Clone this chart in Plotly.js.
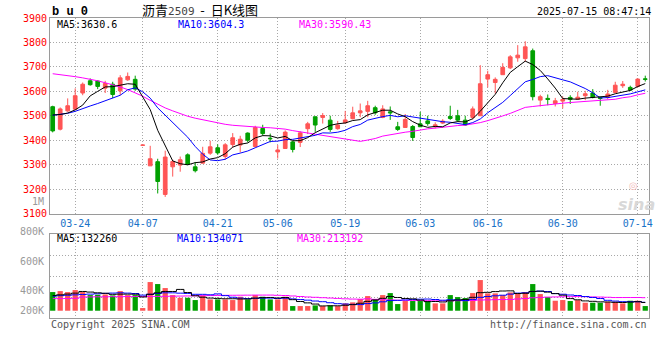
<!DOCTYPE html>
<html><head><meta charset="utf-8">
<script src="https://cdn.plot.ly/plotly-3.0.1.min.js"></script>
<style>html,body{margin:0;padding:0;background:#fff;}#chart{width:660px;height:360px;}</style>
</head><body><div id="chart"></div>
<script>
const dates = ['03-19','03-20','03-21','03-24','03-25','03-26','03-27','03-28','03-31',
'04-01','04-02','04-03','04-07','04-08','04-09','04-10','04-11','04-14','04-15','04-16','04-17','04-18','04-21','04-22','04-23','04-24','04-25','04-28','04-29','04-30',
'05-06','05-07','05-08','05-09','05-12','05-13','05-14','05-15','05-16','05-19','05-20','05-21','05-22','05-23','05-26','05-27','05-28','05-29','05-30',
'06-03','06-04','06-05','06-06','06-09','06-10','06-11','06-12','06-13','06-16','06-17','06-18','06-19','06-20','06-23','06-24','06-25','06-26','06-27','06-30',
'07-01','07-02','07-03','07-04','07-07','07-08','07-09','07-10','07-11','07-14','07-15'];
const openP = [3537,3445,3520,3527,3593,3643,3642,3613,3629,3602,3647,3649,3379,3295,3312,3178,3291,3298,3340,3291,3306,3347,3369,3333,3382,3380,3429,3374,3448,3408,3352,3366,3393,3391,3447,3496,3493,3482,3447,3471,3488,3512,3518,3533,3493,3516,3455,3452,3456,3467,3479,3455,3470,3497,3500,3482,3493,3500,3650,3636,3668,3696,3737,3734,3766,3564,3571,3550,3560,3575,3568,3582,3593,3575,3575,3595,3623,3616,3620,3651];
const highP = [3541,3534,3571,3612,3636,3653,3645,3643,3639,3666,3677,3664,3380,3377,3324,3357,3320,3333,3346,3311,3373,3398,3383,3388,3429,3418,3432,3459,3463,3427,3380,3440,3397,3436,3475,3496,3511,3500,3479,3520,3537,3550,3561,3541,3543,3538,3475,3507,3462,3516,3500,3473,3486,3541,3524,3500,3538,3707,3684,3657,3715,3748,3789,3805,3775,3586,3587,3573,3579,3584,3598,3602,3609,3576,3606,3639,3642,3623,3653,3664];
const lowP = [3432,3440,3516,3524,3584,3623,3609,3593,3572,3584,3643,3602,3379,3295,3182,3168,3251,3271,3298,3268,3305,3340,3340,3320,3370,3350,3391,3370,3418,3391,3325,3366,3350,3372,3425,3434,3468,3434,3443,3470,3485,3494,3494,3504,3490,3483,3438,3452,3397,3455,3459,3448,3466,3483,3475,3459,3485,3500,3616,3591,3668,3691,3721,3721,3563,3538,3543,3538,3530,3548,3565,3564,3571,3541,3568,3593,3614,3602,3616,3640];
const closeP = [3438,3528,3541,3582,3629,3627,3620,3632,3587,3655,3661,3609,3380,3324,3231,3331,3313,3320,3301,3275,3346,3373,3348,3381,3410,3404,3400,3452,3427,3406,3360,3433,3362,3430,3467,3462,3501,3444,3462,3483,3512,3520,3541,3512,3528,3512,3444,3485,3411,3455,3468,3463,3478,3489,3482,3462,3528,3631,3668,3649,3698,3741,3748,3782,3578,3578,3567,3561,3567,3567,3576,3590,3575,3571,3589,3625,3629,3605,3650,3649];
const ma5 = [3503,3505,3511,3524,3543.6,3581.4,3599.8,3618,3619,3624.2,3631,3628.8,3577.8,3525.2,3440.4,3374.4,3315.2,3303.8,3299.2,3308,3311,3323,3328.6,3344.6,3371.6,3383.2,3388.6,3409.4,3418.6,3417.8,3409,3415.6,3397.6,3398.2,3410.4,3430.8,3444.4,3460.8,3467.2,3470.4,3480.4,3484.2,3503.6,3513.6,3522.6,3522.6,3507.4,3496.2,3476,3461.4,3452.6,3456.4,3455,3470.6,3476,3474.8,3487.8,3518.4,3554.2,3587.6,3634.8,3677.4,3700.8,3723.6,3709.4,3685.4,3650.6,3613.2,3570.2,3568,3567.6,3572.2,3575,3575.8,3580.2,3590,3597.8,3603.8,3619.6,3631.6];
const ma10 = [3502,3505,3510,3518,3530,3540,3550,3561,3571,3583.9,3606.2,3614.3,3597.9,3572.1,3532.3,3502.7,3472,3440.8,3412.2,3374.2,3342.7,3319.1,3316.2,3321.9,3339.8,3347.1,3355.8,3369,3381.6,3394.7,3396.1,3402.1,3403.5,3408.4,3414.1,3419.9,3430,3429.2,3432.7,3440.4,3455.6,3464.3,3482.2,3490.4,3496.5,3501.5,3495.8,3499.9,3494.8,3492,3487.6,3481.9,3475.6,3473.3,3468.7,3463.7,3472.1,3486.7,3512.4,3531.8,3554.8,3582.6,3609.6,3638.9,3648.5,3660.1,3664,3657,3646.9,3638.7,3626.5,3611.4,3594.1,3573,3574.1,3578.8,3585,3589.4,3597.7,3605.9];
const ma30 = [3672,3669,3665,3660,3655,3650,3643,3635,3627,3618,3607,3594,3580,3563,3546,3532,3520,3508,3498,3490,3483,3476,3470,3465,3461,3458,3455,3453,3452,3450.9,3448.3,3445.2,3439.2,3434.1,3428.7,3423.2,3419.3,3413,3408.8,3403.1,3398.1,3395.2,3400.6,3406.9,3416.8,3422.8,3427.2,3432.7,3436.4,3442.4,3446.4,3449.4,3453.8,3457.4,3459.8,3461.7,3466,3471.9,3480,3488.1,3499.3,3509.6,3522.5,3534.2,3537.9,3541.8,3544,3547.9,3551.4,3554.2,3556.3,3558.6,3559.8,3561.7,3563.8,3567.5,3573.7,3577.7,3585.7,3592.1];
// volume in thousands of lots
const volume = [308,324,308,341,308,258,264,269,253,324,258,258,44,473,440,374,258,214,214,176,253,187,187,187,176,231,187,258,231,187,187,231,77,77,77,88,77,88,77,121,138,192,242,192,258,291,110,160,160,160,160,121,121,258,225,209,291,506,286,286,258,302,286,308,440,275,225,165,176,160,176,132,132,132,148,148,121,165,165,77];
const volMa5 = [250,262,275,290,317.8,307.8,295.8,288,270.4,273.6,273.6,272.4,227.4,271.4,294.6,317.8,317.8,351.8,300,247.2,223,208.8,203.4,198,198,193.6,193.6,207.8,216.6,218.8,210,218.8,182.6,151.8,129.8,110,79.2,81.4,81.4,90.2,100.2,123.2,154,177,204.4,235,218.6,202.2,195.8,176.2,150,152.2,144.4,164,177,186.8,220.8,297.8,303.4,315.6,325.4,327.6,283.6,288,318.8,322.2,306.8,282.6,256.2,200.2,180.4,161.8,155.2,146.4,144,138.4,136.2,142.8,149.4,135.2];
const volMa10 = [240,248,255,262,268,274,280,286,291,295.7,290.7,284.1,257.7,270.9,284.1,295.7,295.1,289.6,285.7,270.9,270.4,263.3,277.6,249,222.6,208.3,201.2,205.6,207.3,208.4,201.8,206.2,195.2,184.2,174.3,160,149,132,116.6,110,105.1,101.2,117.7,129.2,147.3,167.6,170.9,178.1,186.4,190.3,192.5,185.4,173.3,179.9,176.6,168.4,186.5,221.1,233.7,246.3,256.1,274.2,290.7,295.7,317.2,323.8,317.2,283.1,272.1,259.5,251.3,234.3,218.9,201.3,172.1,159.4,149,149,147.9,139.6];
const volMa30 = [200,200,202,205,225,228,230,230,232,232,234,234,234,236,236,238,240,242,244,246,248,250,252,254,255,256,257,258,258,258.3,254.3,251.2,243.5,234.7,227,221.3,215.1,209.1,203.2,196.4,192.4,190.2,196.8,187.5,181.4,178.6,173.7,171.9,170.1,169.6,166.5,164.3,162.1,164.4,166.1,165.3,168.8,177.1,178.9,182.2,184.6,186.9,193.9,201.6,213.7,219.9,224.9,227.4,230.7,232,233.3,231.3,227.6,225.6,222,217.2,217.6,217.7,217.9,215.1];
const dateTicks = ['03-24','04-07','04-21','05-06','05-19','06-03','06-16','06-30','07-14'];
const priceTicks = [3100,3200,3300,3400,3500,3600,3700,3800,3900];
const volTickLabels = ['1M','800K','600K','400K','200K'];
const priceLegend = ['MA5:3630.6','MA10:3604.3','MA30:3590.43'];
const volLegend = ['MA5:132260','MA10:134071','MA30:213192'];

const RED = '#ff5555', GREEN = '#00a000';
const MONO = 'DejaVu Sans Mono';
const L = 50, T = 18, W = 599, H = 300;
const px = x => (x - L) / W;
const py = y => (T + H - y) / H;

const barColors = closeP.map((c, i) => c >= openP[i] ? RED : GREEN);

const traces = [
  {type:'candlestick', x:dates, open:openP, high:highP, low:lowP, close:closeP, xaxis:'x', yaxis:'y',
   increasing:{line:{color:RED,width:1}, fillcolor:RED},
   decreasing:{line:{color:GREEN,width:1}, fillcolor:GREEN},
   whiskerwidth:0, hoverinfo:'skip', showlegend:false},
  {type:'scatter', mode:'lines', x:dates, y:ma30, line:{color:'#ff00ff', width:1}, xaxis:'x', yaxis:'y', hoverinfo:'skip'},
  {type:'scatter', mode:'lines', x:dates, y:ma10, line:{color:'#0000ff', width:1}, xaxis:'x', yaxis:'y', hoverinfo:'skip'},
  {type:'scatter', mode:'lines', x:dates, y:ma5, line:{color:'#000000', width:1}, xaxis:'x', yaxis:'y', hoverinfo:'skip'},
  {type:'bar', x:dates, y:volume, marker:{color:barColors, line:{width:0}}, xaxis:'x2', yaxis:'y2', hoverinfo:'skip'},
  {type:'scatter', mode:'lines', x:dates, y:volMa30, line:{color:'#ff00ff', width:1, shape:'hvh'}, xaxis:'x2', yaxis:'y2', hoverinfo:'skip'},
  {type:'scatter', mode:'lines', x:dates, y:volMa10, line:{color:'#0000ff', width:1, shape:'hvh'}, xaxis:'x2', yaxis:'y2', hoverinfo:'skip'},
  {type:'scatter', mode:'lines', x:dates, y:volMa5, line:{color:'#000000', width:1, shape:'hvh'}, xaxis:'x2', yaxis:'y2', hoverinfo:'skip'}
];

const gridCol = '#a8a8a8', axCol = '#9a9a9a';
const ann = (text, x, y, color, xanchor, size, extra) => Object.assign({
  text, x:px(x), y:py(y), xref:'paper', yref:'paper', xanchor:xanchor||'left', yanchor:'middle',
  showarrow:false, font:{family:MONO, size:size||10, color:color}}, extra||{});

const volLabelY = [201, 231, 261, 290, 310];
const annotations = [
  ann('b u 0', 50, 12, '#000', 'left', 12, {font:{family:'Liberation Mono', size:12, color:'#000', weight:'bold'}}),
  ann('2025-07-15 08:47:14', 653, 12, '#000', 'right', 10),
  ann(priceLegend[0], 55, 24.5, '#000'),
  ann(priceLegend[1], 176, 24.5, '#0000ff'),
  ann(priceLegend[2], 297, 24.5, '#ff00ff'),
  ann(volLegend[0], 55, 238.5, '#000'),
  ann(volLegend[1], 175, 238.5, '#0000ff'),
  ann(volLegend[2], 295, 238.5, '#ff00ff'),
  ann('Copyright 2025 SINA.COM', 49, 324, '#555'),
  ann('http://finance.sina.com.cn', 649, 324, '#555', 'right'),
  ann('sina', 636, 204, '#d8d8d8', 'center', 16, {font:{family:'DejaVu Sans', size:16, color:'#d8d8d8', style:'italic', weight:'bold'}}),
  ann('◎', 633, 185, '#f2bcbc', 'center', 10, {font:{family:'DejaVu Sans', size:10, color:'#f2bcbc'}})
].concat(volTickLabels.map((t, i) => ann(t, 46, volLabelY[i], '#999', 'right', 10)));

const layout = {
  width:660, height:360, margin:{l:L, r:660-L-W, t:T, b:360-T-H, pad:0},
  paper_bgcolor:'#fff', plot_bgcolor:'#fff', showlegend:false, bargap:0.3,
  title:{text:'沥青<span style="font-family:DejaVu Sans Mono;font-size:11px;color:#444">2509</span>\u00a0\u00a0-\u00a0\u00a0日K线图',
         x:142/660, xanchor:'left', y:1-10.5/360, yanchor:'middle', xref:'container', yref:'container',
         font:{family:'Noto Sans CJK SC', size:13, color:'#000'}},
  xaxis:{type:'category', domain:[0,1], anchor:'y', range:[-0.36, 79.5], tickvals:dateTicks, ticktext:dateTicks,
         showgrid:true, gridcolor:gridCol, griddash:'1px,2px', gridwidth:1, ticks:'', showline:true, linecolor:axCol,
         linewidth:1, mirror:true, tickfont:{family:MONO, size:10, color:'#1872c8'}, rangeslider:{visible:false},
         zeroline:false, fixedrange:true},
  yaxis:{domain:[(T+H-213.5)/H, 1], anchor:'x', range:[3100, 3900], tickvals:priceTicks, ticktext:priceTicks.map(String),
         showgrid:true, gridcolor:gridCol, griddash:'1px,2px', ticks:'', showline:true, linecolor:axCol, mirror:true,
         tickfont:{family:MONO, size:10, color:'#ff0000'}, zeroline:false, fixedrange:true},
  xaxis2:{type:'category', domain:[0,1], anchor:'y2', matches:'x', range:[-0.36, 79.5], tickvals:dateTicks,
          showticklabels:false, showgrid:true, gridcolor:gridCol, griddash:'1px,2px', ticks:'', showline:true,
          linecolor:axCol, mirror:true, zeroline:false, fixedrange:true},
  yaxis2:{domain:[0, (T+H-234.3)/H], anchor:'x2', range:[-120, 1261], tickvals:[226, 573, 919],
          showticklabels:false, showgrid:true, gridcolor:gridCol, griddash:'1px,2px', ticks:'', showline:true,
          linecolor:axCol, mirror:true, zeroline:false, fixedrange:true},
  annotations
};

Plotly.newPlot('chart', traces, layout, {displayModeBar:false, staticPlot:true});
</script>
</body></html>
